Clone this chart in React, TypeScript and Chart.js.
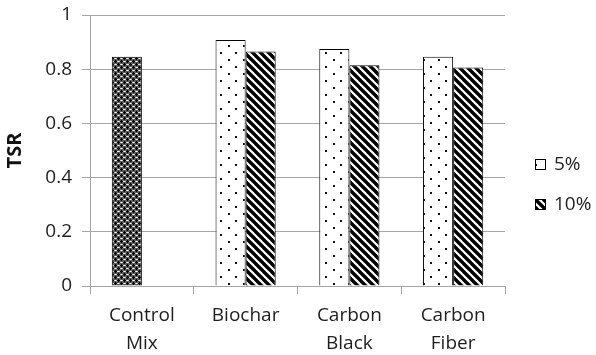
import React, { useEffect, useRef } from 'react';
import { Chart, registerables } from 'chart.js';

Chart.register(...registerables);

const categories: (string | string[])[] = [['Control', 'Mix'], 'Biochar', ['Carbon', 'Black'], ['Carbon', 'Fiber']];
const seriesLabels = ['5%', '10%'];
const values5: (number | null)[] = [0.846, 0.908, 0.875, 0.846];
const values10: (number | null)[] = [null, 0.865, 0.815, 0.806];
const yMin = 0;
const yMax = 1;
const yStep = 0.2;
const yTitle = 'TSR';

const FONT = "'Open Sans'";
const TEXT = '#1e1e1e';
const GRID = '#a6a6a6';

function makeTile(w: number, h: number, draw: (c: CanvasRenderingContext2D) => void): CanvasPattern {
  const cv = document.createElement('canvas');
  cv.width = w;
  cv.height = h;
  const c = cv.getContext('2d')!;
  draw(c);
  return document.createElement('canvas').getContext('2d')!.createPattern(cv, 'repeat')!;
}

function makePatterns() {
  const dots = makeTile(15, 14, (c) => {
    c.fillStyle = '#ffffff';
    c.fillRect(0, 0, 15, 14);
    c.fillStyle = '#111111';
    c.fillRect(3, 3, 2, 2);
    c.fillRect(10, 10, 2, 2);
  });
  const stripes = makeTile(8, 8, (c) => {
    c.fillStyle = '#ffffff';
    c.fillRect(0, 0, 8, 8);
    c.strokeStyle = '#000000';
    c.lineWidth = 3.4;
    for (const x0 of [-8, 0, 8]) {
      c.beginPath();
      c.moveTo(x0 - 1, -1);
      c.lineTo(x0 + 9, 9);
      c.stroke();
    }
  });
  const cross = makeTile(6, 6, (c) => {
    c.fillStyle = '#5a5a5a';
    c.fillRect(0, 0, 6, 6);
    c.fillStyle = '#000000';
    c.fillRect(1, 0, 1, 3);
    c.fillRect(0, 1, 3, 1);
    c.fillRect(4, 3, 1, 3);
    c.fillRect(3, 4, 3, 1);
    c.fillStyle = '#ffffff';
    c.fillRect(4, 1, 1, 1);
    c.fillRect(1, 4, 1, 1);
    c.fillStyle = '#d0d0d0';
    c.fillRect(3, 1, 1, 1);
    c.fillRect(5, 1, 1, 1);
    c.fillRect(0, 4, 1, 1);
    c.fillRect(2, 4, 1, 1);
  });
  return { dots, stripes, cross };
}

export default function App() {
  const ref = useRef<HTMLCanvasElement | null>(null);

  useEffect(() => {
    if (!ref.current) return;
    const { dots, stripes, cross } = makePatterns();

    const legendPlugin = {
      id: 'sideLegend',
      afterDraw(chart: any) {
        const ctx = chart.ctx as CanvasRenderingContext2D;
        const area = chart.chartArea;
        const fills = [dots, stripes];
        const x = area.right + 30;
        const y0 = area.top + 149;
        ctx.save();
        seriesLabels.forEach((label, i) => {
          const cy = y0 + i * 40;
          ctx.fillStyle = fills[i];
          ctx.fillRect(x, cy - 5, 11, 11);
          ctx.strokeStyle = '#000000';
          ctx.lineWidth = 1;
          ctx.strokeRect(x + 0.5, cy - 4.5, 10, 10);
          ctx.fillStyle = TEXT;
          ctx.font = `19px ${FONT}`;
          ctx.textBaseline = 'middle';
          ctx.textAlign = 'left';
          ctx.fillText(label, x + 19, cy + 1);
        });
        ctx.restore();
      },
    };

    const chart = new Chart(ref.current, {
      type: 'bar',
      data: {
        labels: categories as any,
        datasets: [
          {
            label: seriesLabels[0],
            data: values5,
            backgroundColor: ((c: any) => (c.dataIndex === 0 ? cross : dots)) as any,
            borderColor: '#000000',
            borderWidth: 1,
          },
          {
            label: seriesLabels[1],
            data: values10,
            backgroundColor: stripes as any,
            borderColor: '#000000',
            borderWidth: 1,
          },
        ],
      },
      options: {
        animation: false,
        responsive: false,
        maintainAspectRatio: false,
        events: [],
        layout: { padding: { left: 0, top: 15, right: 91, bottom: 0 } },
        datasets: { bar: { categoryPercentage: 0.58, barPercentage: 1 } },
        plugins: {
          legend: { display: false },
          tooltip: { enabled: false },
        },
        scales: {
          x: {
            grid: { display: true, drawOnChartArea: false, drawTicks: true, tickLength: 8, color: GRID },
            border: { color: GRID },
            ticks: { font: { family: FONT, size: 19, lineHeight: 1.45 }, color: TEXT, padding: 8, maxRotation: 0, autoSkip: false },
            afterFit: (s: any) => {
              s.height = 69;
              s.paddingLeft = 0;
              s.paddingRight = 0;
            },
          },
          y: {
            min: yMin,
            max: yMax,
            ticks: {
              stepSize: yStep,
              font: { family: FONT, size: 19 },
              color: TEXT,
              padding: 10,
              callback: (v: any) => String(Math.round(Number(v) * 10) / 10),
            },
            grid: { color: GRID, lineWidth: 1, tickLength: 8 },
            border: { color: GRID },
            title: {
              display: true,
              text: yTitle,
              font: { family: FONT, size: 20, weight: 'bold' },
              color: '#111111',
              padding: { top: 3, bottom: 0 },
            },
            afterFit: (s: any) => {
              s.width = 90;
              s.paddingTop = 0;
              s.paddingBottom = 0;
            },
          },
        },
      },
      plugins: [legendPlugin],
    });
    return () => chart.destroy();
  }, []);

  return (
    <div style={{ position: 'absolute', left: 0, top: 0, width: 596, height: 355, background: '#ffffff' }}>
      <canvas ref={ref} width={596} height={355} style={{ display: 'block', width: 596, height: 355 }} />
    </div>
  );
}
